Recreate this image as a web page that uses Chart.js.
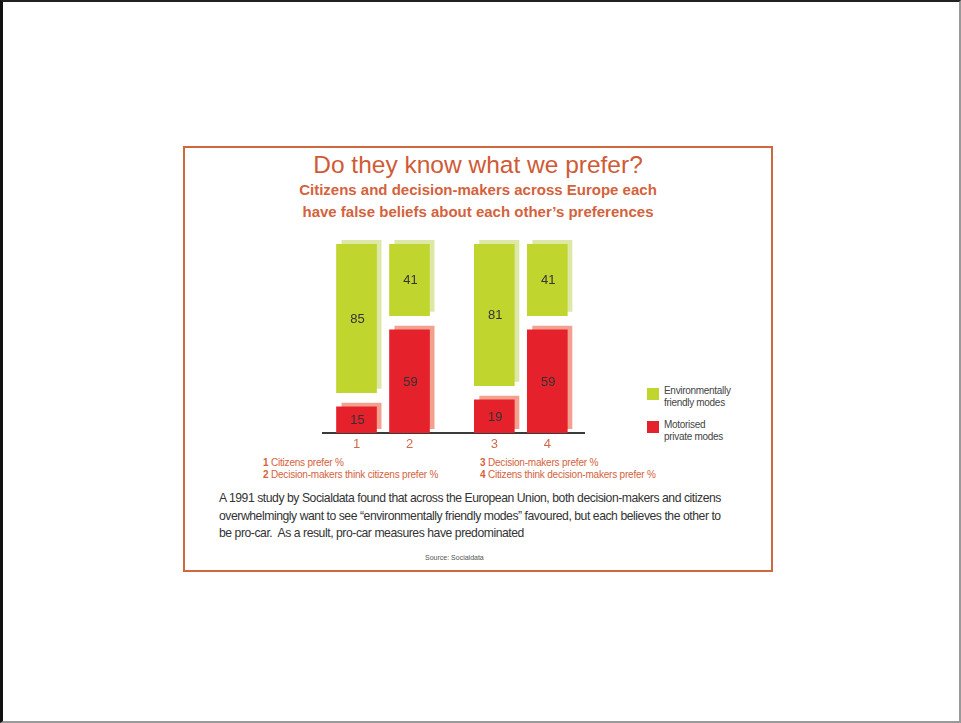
<!DOCTYPE html>
<html>
<head>
<meta charset="utf-8">
<script src="https://cdn.jsdelivr.net/npm/chart.js@4.4.0/dist/chart.umd.min.js"></script>
<style>
    body {
        margin: 0;
        width: 961px;
        height: 723px;
        position: relative;
        overflow: hidden;
        background: #fff;
        font-family: "Liberation Sans", Arial, sans-serif;
    }
    #page {
        position: absolute;
        left: 0; top: 0;
        width: 961px; height: 723px;
        box-sizing: border-box;
        border-left: 3px solid #111;
        border-top: 2px solid #222;
        border-right: 2px solid #999;
        border-bottom: 2px solid #999;
    }
    #frame {
        position: absolute;
        left: 183px; top: 146px;
        width: 590px; height: 426px;
        box-sizing: border-box;
        border: 2px solid #d0683f;
    }
    .abs { position: absolute; white-space: nowrap; }
    #title {
        left: 183px; width: 590px; top: 151px;
        text-align: center;
        font-size: 24.5px;
        color: #cf5b36;
    }
    #subtitle {
        left: 183px; width: 590px; top: 179px;
        text-align: center;
        font-size: 15px;
        font-weight: bold;
        line-height: 22px;
        color: #d4623c;
    }
    #chart-box {
        position: absolute;
        left: 322px; top: 234px;
        width: 263px; height: 221px;
    }
    .legend-item { font-size: 10px; line-height: 12px; color: #444; letter-spacing: -0.3px; }
    .swatch { position: absolute; width: 12px; height: 12px; }
    .note { font-size: 10px; line-height: 12px; color: #d4623c; letter-spacing: -0.2px; }
    .note b { font-weight: bold; }
    #para {
        left: 219px; top: 490px;
        font-size: 12.2px;
        line-height: 17.5px;
        color: #333;
        letter-spacing: -0.45px;
    }
    #source { left: 425px; top: 554px; font-size: 7px; color: #555; }
</style>
</head>
<body>
<div id="page"></div>
<div id="frame"></div>

<div id="title" class="abs">Do they know what we prefer?</div>
<div id="subtitle" class="abs">Citizens and decision-makers across Europe each<br>have false beliefs about each other’s preferences</div>

<div id="chart-box"><canvas id="barChart"></canvas></div>

<div class="swatch" style="left:647px; top:388px; background:#c1d52f;"></div>
<div class="abs legend-item" style="left:664px; top:385px;">Environmentally<br>friendly modes</div>
<div class="swatch" style="left:647px; top:421px; background:#e5222b;"></div>
<div class="abs legend-item" style="left:664px; top:419px;">Motorised<br>private modes</div>

<div class="abs note" style="left:263px; top:457px;"><b>1</b> Citizens prefer %<br><b>2</b> Decision-makers think citizens prefer %</div>
<div class="abs note" style="left:480px; top:457px;"><b>3</b> Decision-makers prefer %<br><b>4</b> Citizens think decision-makers prefer %</div>

<div id="para" class="abs">A 1991 study by Socialdata found that across the European Union, both decision-makers and citizens<br>overwhelmingly want to see “environmentally friendly modes” favoured, but each believes the other to<br>be pro-car.&nbsp; As a result, pro-car measures have predominated</div>
<div id="source" class="abs">Source: Socialdata</div>

<script>
// data
const categories = ['1', '2', '3', '4'];
const ecoFriendly = [85, 41, 81, 41];
const motorised = [15, 59, 19, 59];

// layout: where each column sits on the x axis, and the white gap between the two parts
const slotPos = [1, 2, 3.6, 4.6];
const gap = 8;

const ecoColor = '#c1d52f';
const ecoShadow = '#dde8a6';
const carColor = '#e5222b';
const carShadow = '#f3a08e';

const shadowPlugin = {
    id: 'shadows',
    beforeDatasetsDraw(chart) {
        const ctx = chart.ctx;
        ctx.save();
        chart.data.datasets.forEach((ds, di) => {
            chart.getDatasetMeta(di).data.forEach(el => {
                const { x, y, base, width } = el.getProps(['x', 'y', 'base', 'width'], true);
                ctx.fillStyle = ds.shadowColor;
                ctx.fillRect(x - width / 2 + 5, Math.min(y, base) - 4, width, Math.abs(base - y));
            });
        });
        ctx.restore();
    }
};

const valueLabels = {
    id: 'valueLabels',
    afterDatasetsDraw(chart) {
        const ctx = chart.ctx;
        ctx.save();
        ctx.fillStyle = '#333';
        ctx.font = '13px "Liberation Sans", Arial, sans-serif';
        ctx.textAlign = 'center';
        ctx.textBaseline = 'middle';
        chart.data.datasets.forEach((ds, di) => {
            chart.getDatasetMeta(di).data.forEach((el, i) => {
                const { x, y, base } = el.getProps(['x', 'y', 'base'], true);
                ctx.fillText(ds.values[i], x + 1, (y + base) / 2 + 1);
            });
        });
        ctx.restore();
    }
};

new Chart(document.getElementById('barChart').getContext('2d'), {
    type: 'bar',
    data: {
        datasets: [
            {
                label: 'Motorised private modes',
                data: motorised.map((v, i) => ({ x: slotPos[i], y: v })),
                values: motorised,
                backgroundColor: carColor,
                shadowColor: carShadow,
                grouped: false,
                barThickness: 40
            },
            {
                label: 'Environmentally friendly modes',
                data: ecoFriendly.map((v, i) => ({ x: slotPos[i], y: [motorised[i] + gap, motorised[i] + gap + v] })),
                values: ecoFriendly,
                backgroundColor: ecoColor,
                shadowColor: ecoShadow,
                grouped: false,
                barThickness: 40
            }
        ]
    },
    options: {
        responsive: true,
        maintainAspectRatio: false,
        animation: false,
        layout: { padding: { top: 10, bottom: 0, left: 0, right: 0 } },
        plugins: {
            legend: { display: false },
            tooltip: { enabled: false }
        },
        scales: {
            x: {
                type: 'linear',
                min: 0.349,
                max: 5.311,
                offset: false,
                z: 1,
                grid: { display: false, drawTicks: false, offset: false },
                border: { display: true, color: '#3a3a3a', width: 2 },
                afterBuildTicks: scale => {
                    scale.ticks = slotPos.map(v => ({ value: v }));
                },
                afterFit: scale => {
                    scale.height = 22;
                },
                ticks: {
                    padding: 4,
                    color: '#d06a4c',
                    font: { size: 13, family: '"Liberation Sans", Arial, sans-serif' },
                    callback: (value, index) => categories[index]
                }
            },
            y: {
                display: false,
                min: 0,
                max: 108
            }
        }
    },
    plugins: [shadowPlugin, valueLabels]
});
</script>
</body>
</html>
